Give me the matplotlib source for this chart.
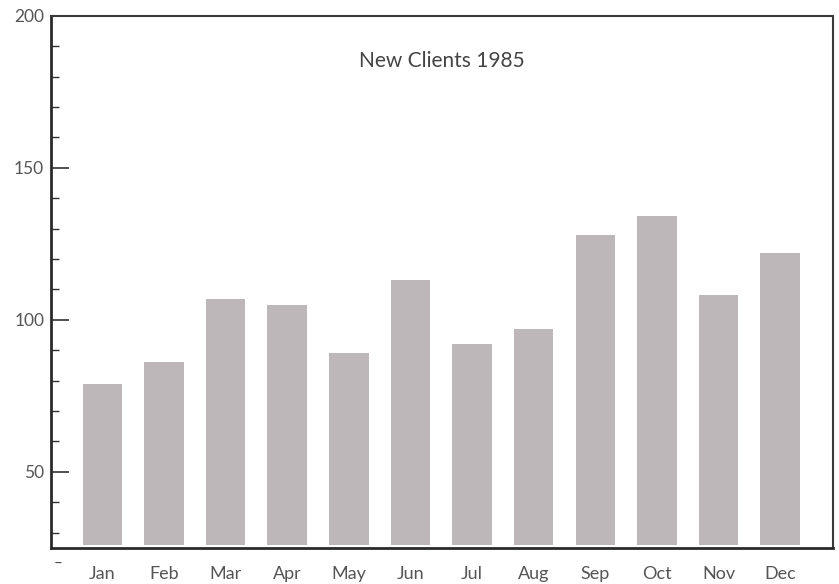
import numpy as np
import matplotlib.pyplot as plt
from matplotlib.ticker import MultipleLocator

months = ['Jan', 'Feb', 'Mar', 'Apr', 'May', 'Jun',
          'Jul', 'Aug', 'Sep', 'Oct', 'Nov', 'Dec']
clients = [79, 86, 107, 105, 89, 113, 92, 97, 128, 134, 108, 122]
yticks = [50, 100, 150, 200]

plt.rcParams['font.family'] = ['Lato', 'DejaVu Sans']

fig = plt.figure(figsize=(8.39, 5.84), dpi=100)
ax = fig.add_axes([0.061, 0.062, 0.932, 0.911])

x = np.arange(len(months))
base = 26  # bars sit a hair above the axis line in the scan
ax.bar(x, np.array(clients) - base, width=0.64, bottom=base,
       color='#bdb7b9', zorder=1)

ax.set_xlim(-0.83, 11.86)
ax.set_ylim(25, 200)

ax.set_yticks(yticks)
ax.yaxis.set_minor_locator(MultipleLocator(10))
ax.tick_params(axis='y', which='major', direction='in', length=13, width=1.2,
               pad=5, labelsize=12.5, colors='#333333', labelcolor='#555555')
ax.tick_params(axis='y', which='minor', direction='in', length=6, width=1.0,
               colors='#333333')

ax.set_xticks(x)
ax.set_xticklabels(months)
ax.tick_params(axis='x', length=0, pad=13, labelsize=13, labelcolor='#555555')

for side in ['left', 'bottom']:
    ax.spines[side].set_linewidth(2.0)
    ax.spines[side].set_color('#2a2a2a')
for side in ['top', 'right']:
    ax.spines[side].set_linewidth(1.5)
    ax.spines[side].set_color('#3a3a3a')

ax.text(0.5, 0.915, 'New Clients 1985', transform=ax.transAxes,
        ha='center', va='center', fontsize=15, color='#444444')

# small stray mark below the axis corner
ax.text(0.009, -0.03, '\u2013', transform=ax.transAxes, ha='center',
        va='center', fontsize=11, color='#444444')

fig.savefig('out.png', dpi=100)
